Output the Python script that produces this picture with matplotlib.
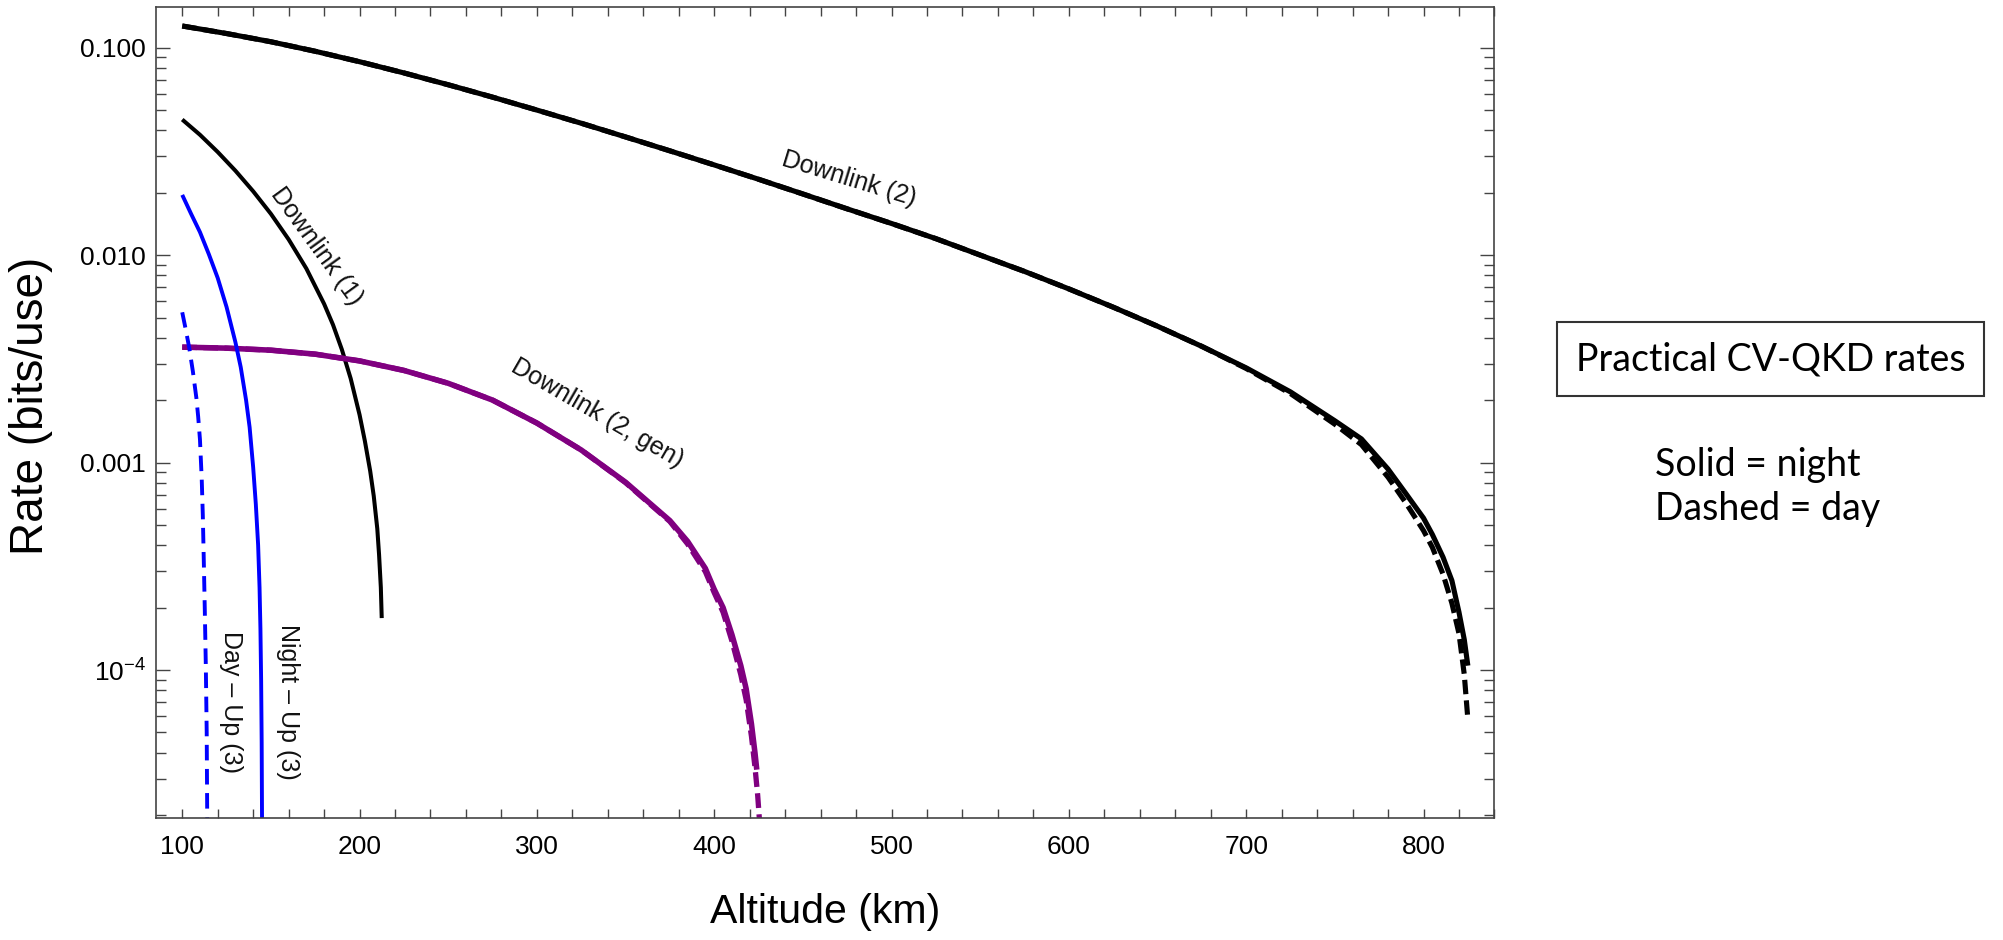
import matplotlib
matplotlib.use('Agg')
import matplotlib.pyplot as plt
from matplotlib.ticker import FixedLocator, MultipleLocator, LogLocator, NullFormatter, FixedFormatter

plt.rcParams['font.family'] = ['Liberation Sans', 'DejaVu Sans']
plt.rcParams['mathtext.fontset'] = 'custom'
plt.rcParams['mathtext.rm'] = 'Liberation Sans'
plt.rcParams['mathtext.it'] = 'Liberation Sans:italic'

# Downlink (2), night / day
alt_dl2 = [100, 125, 150, 175, 200, 225, 250, 275, 300, 325, 350, 375, 400, 425, 450, 475,
           500, 525, 550, 575, 600, 625, 650, 675, 700, 725, 750, 765, 780, 790, 800, 805,
           811, 816, 820, 823, 825]
rate_dl2_night = [0.1271, 0.1169, 0.1067, 0.0960, 0.0855, 0.0755, 0.0662, 0.0577, 0.0500, 0.0432,
                  0.0371, 0.0318, 0.0272, 0.0232, 0.0197, 0.0167, 0.0142, 0.0120, 0.0100, 0.00834,
                  0.00687, 0.00561, 0.00454, 0.00363, 0.00286, 0.00219, 0.00159, 0.00130,
                  0.00093, 0.00071, 0.00054, 0.00045, 0.00035, 0.00027, 0.00019, 0.00014, 0.000105]
rate_dl2_day = [0.1271, 0.1169, 0.1067, 0.0960, 0.0855, 0.0755, 0.0662, 0.0577, 0.0500, 0.0432,
                0.0371, 0.0318, 0.0272, 0.0232, 0.0197, 0.0167, 0.0142, 0.0120, 0.0100, 0.00834,
                0.00687, 0.00561, 0.00454, 0.00363, 0.00284, 0.00215, 0.00153, 0.00122,
                0.00085, 0.00064, 0.00047, 0.00039, 0.00029, 0.00021, 0.00015, 0.000095, 0.000058]

# Downlink (1)
alt_dl1 = [100, 110, 120, 130, 140, 150, 160, 170, 180, 185, 190, 195, 200, 203, 206, 208,
           210, 211, 212, 212.5]
rate_dl1 = [0.0450, 0.0380, 0.0314, 0.0255, 0.0203, 0.0158, 0.0119, 0.00861, 0.00582, 0.00462,
            0.00351, 0.00254, 0.00170, 0.00127, 0.00091, 0.00069, 0.00048, 0.00036, 0.00025,
            0.000178]

# Downlink (2, gen), night / day
alt_gen_night = [100, 125, 150, 175, 200, 225, 250, 275, 300, 325, 350, 375, 385, 395, 400,
                 405, 410, 415, 418, 421, 423, 424]
rate_gen_night = [0.00360, 0.00356, 0.00348, 0.00333, 0.00309, 0.00278, 0.00241, 0.00200,
                  0.00155, 0.00115, 0.000804, 0.000525, 0.000417, 0.000309, 0.000245, 0.000200,
                  0.000148, 0.000105, 0.0000813, 0.000055, 0.0000398, 0.0000331]
alt_gen_day = [100, 125, 150, 175, 200, 225, 250, 275, 300, 325, 350, 375, 385, 395, 400,
               405, 410, 415, 418, 421, 423, 424.5, 425.5]
rate_gen_day = [0.00360, 0.00356, 0.00348, 0.00333, 0.00309, 0.00278, 0.00241, 0.00200,
                0.00155, 0.00115, 0.000800, 0.000520, 0.000405, 0.000298, 0.000236, 0.000190,
                0.000138, 0.000095, 0.000072, 0.000048, 0.000034, 0.000025, 0.000019]

# Up (3), night / day
alt_up_night = [100, 105, 110, 115, 120, 125, 130, 133, 136, 138, 140, 141.5, 142.8, 143.6,
                144.1, 144.5, 144.8, 145]
rate_up_night = [0.0195, 0.0158, 0.0129, 0.0101, 0.00776, 0.00562, 0.0038, 0.00288, 0.0020,
                 0.00148, 0.00095, 0.00063, 0.0004, 0.00025, 0.000158, 0.000089, 0.0000447,
                 0.000019]
alt_up_day = [100, 102, 104, 106, 108, 109, 110, 111, 111.6, 112.1, 112.7, 113.3, 113.8, 114.1]
rate_up_day = [0.0053, 0.00437, 0.00355, 0.00275, 0.00204, 0.00166, 0.00129, 0.00083, 0.00056,
               0.000355, 0.0002, 0.000105, 0.00005, 0.000019]

x_ticks = [100, 200, 300, 400, 500, 600, 700, 800]
y_ticks = [1e-4, 1e-3, 1e-2, 1e-1]
y_tick_labels = [r'$10^{-4}$', '0.001', '0.010', '0.100']

purple = '#800080'

fig = plt.figure(figsize=(20.03, 9.40), dpi=100)
ax = fig.add_axes([0.0777, 0.1295, 0.6684, 0.8631])

ax.plot(alt_dl2, rate_dl2_night, color='black', lw=3.7, solid_capstyle='butt')
ax.plot(alt_dl2, rate_dl2_day, color='black', lw=3.7, ls=(0, (2.8, 1.2)))
ax.plot(alt_dl1, rate_dl1, color='black', lw=2.9, solid_capstyle='butt')
ax.plot(alt_gen_night, rate_gen_night, color=purple, lw=4.0, solid_capstyle='butt')
ax.plot(alt_gen_day, rate_gen_day, color=purple, lw=3.8, ls=(0, (2.8, 1.2)))
ax.plot(alt_up_night, rate_up_night, color='blue', lw=2.8, solid_capstyle='butt')
ax.plot(alt_up_day, rate_up_day, color='blue', lw=2.8, ls=(0, (4.0, 2.2)))

ax.set_yscale('log')
ax.set_xlim(85, 840)
ax.set_ylim(1.93e-5, 0.157)

ax.xaxis.set_major_locator(FixedLocator(x_ticks))
ax.xaxis.set_minor_locator(MultipleLocator(20))
ax.yaxis.set_major_locator(FixedLocator(y_ticks))
ax.yaxis.set_major_formatter(FixedFormatter(y_tick_labels))
ax.yaxis.set_minor_locator(LogLocator(base=10, subs=range(2, 10)))
ax.yaxis.set_minor_formatter(NullFormatter())

ax.tick_params(axis='both', which='both', direction='in', top=True, right=True,
               color='#444444', width=1.0, labelsize=19)
ax.tick_params(axis='x', which='both', length=6.5, pad=12)
ax.tick_params(axis='y', which='major', length=10, pad=7)
ax.tick_params(axis='y', which='minor', length=7)
for s in ax.spines.values():
    s.set_color('#444444')
    s.set_linewidth(1.2)

fig.text(0.0155, 0.568, 'Rate (bits/use)', rotation=90, ha='center', va='center', fontsize=33)
fig.text(0.4117, 0.030, 'Altitude (km)', ha='center', va='center', fontsize=29.5)

# curve labels
lab = dict(fontsize=18, ha='center', va='center', color='#111111')
ax.text(476, 0.0232, 'Downlink (2)', rotation=-17, **lab)
ax.text(175.7, 0.0110, 'Downlink (1)', rotation=-54, **lab)
ax.text(334, 0.00173, 'Downlink (2, gen)', rotation=-30, **lab)
ax.text(159.5, 7.0e-5, 'Night \u2013 Up (3)', rotation=-90, **lab)
ax.text(127.3, 7.0e-5, 'Day \u2013 Up (3)', rotation=-90, **lab)

# side notes
fig.text(0.8839, 1 - 359 / 940, 'Practical CV-QKD rates', ha='center', va='center',
         fontsize=27, family='Lato',
         bbox=dict(boxstyle='square,pad=0.5', fc='white', ec='#333333', lw=1.5))
fig.text(0.8263, 1 - 487 / 940, 'Solid = night\nDashed = day', ha='left', va='center',
         fontsize=27, family='Lato', linespacing=1.3)

fig.savefig('out.png', dpi=100)
